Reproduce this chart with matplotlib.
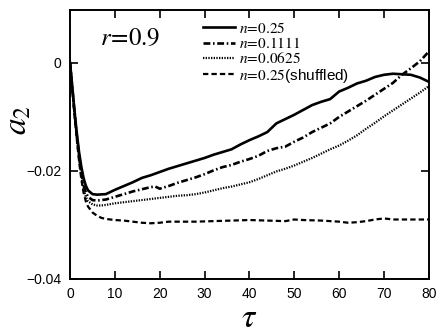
import matplotlib
matplotlib.use('Agg')
import numpy as np
from matplotlib import pyplot as plt

plt.rcParams['font.family'] = ['Liberation Sans', 'DejaVu Sans']
plt.rcParams['mathtext.fontset'] = 'stix'

# n=0.25
tau_a = [0, 0.5, 1, 1.5, 2, 2.5, 3, 3.5, 4, 5, 6, 8, 10, 12, 14, 16, 18, 20, 22, 24, 26, 28, 30,
         32, 34, 36, 38, 40, 42, 44, 46, 48, 50, 52, 54, 56, 58, 60, 62, 64, 66, 68, 70, 72, 74,
         76, 78, 80]
a2_a = [0, -0.0045, -0.0090, -0.0130, -0.0165, -0.0192, -0.0213, -0.0227, -0.0236, -0.0243,
        -0.0244, -0.0243, -0.0235, -0.0228, -0.0221, -0.0213, -0.0208, -0.0202, -0.0196, -0.0191,
        -0.0186, -0.0181, -0.0176, -0.0170, -0.0165, -0.0160, -0.0151, -0.0143, -0.0136, -0.0128,
        -0.0112, -0.0104, -0.0096, -0.0087, -0.0078, -0.0072, -0.0067, -0.0053, -0.0046, -0.0038,
        -0.0033, -0.0026, -0.0022, -0.0020, -0.0021, -0.0022, -0.0027, -0.0035]

# n=0.1111
tau_b = [0, 0.5, 1, 1.5, 2, 2.5, 3, 3.5, 4, 5, 6, 8, 10, 12, 14, 16, 18, 19, 20, 22, 24, 26, 28,
         30, 32, 34, 36, 38, 40, 42, 44, 46, 48, 50, 52, 54, 56, 58, 60, 62, 64, 66, 68, 70, 72,
         74, 76, 78, 80]
a2_b = [0, -0.0047, -0.0093, -0.0135, -0.0172, -0.0202, -0.0225, -0.0240, -0.0248, -0.0254,
        -0.0255, -0.0253, -0.0248, -0.0243, -0.0238, -0.0234, -0.0230, -0.0229, -0.0233, -0.0228,
        -0.0222, -0.0217, -0.0212, -0.0206, -0.0199, -0.0193, -0.0189, -0.0183, -0.0178, -0.0172,
        -0.0163, -0.0158, -0.0155, -0.0146, -0.0138, -0.0128, -0.0120, -0.0112, -0.0100, -0.0090,
        -0.0080, -0.0070, -0.0059, -0.0048, -0.0037, -0.0022, -0.0010, 0.0003, 0.0021]

# n=0.0625
tau_c = [0, 0.5, 1, 1.5, 2, 2.5, 3, 3.5, 4, 5, 6, 7, 8, 10, 12, 14, 16, 18, 20, 22, 24, 26, 28,
         30, 32, 34, 36, 38, 40, 42, 44, 46, 48, 50, 52, 54, 56, 58, 60, 62, 64, 66, 68, 70, 72,
         74, 76, 78, 80]
a2_c = [0, -0.0048, -0.0095, -0.0138, -0.0176, -0.0208, -0.0232, -0.0248, -0.0256, -0.0262,
        -0.0264, -0.0264, -0.0263, -0.0260, -0.0258, -0.0256, -0.0254, -0.0252, -0.0250, -0.0248,
        -0.0246, -0.0245, -0.0243, -0.0240, -0.0236, -0.0232, -0.0229, -0.0225, -0.0221, -0.0215,
        -0.0208, -0.0201, -0.0196, -0.0190, -0.0183, -0.0176, -0.0168, -0.0160, -0.0153, -0.0144,
        -0.0134, -0.0122, -0.0111, -0.0099, -0.0088, -0.0077, -0.0066, -0.0055, -0.0043]

# n=0.25 (shuffled)
tau_d = [0, 0.5, 1, 1.5, 2, 2.5, 3, 3.5, 4, 5, 6, 7, 8, 10, 12, 14, 16, 18, 20, 22, 25, 28, 32,
         36, 40, 44, 48, 50, 52, 56, 60, 62, 64, 66, 68, 70, 72, 76, 80]
a2_d = [0, -0.0049, -0.0097, -0.0142, -0.0182, -0.0215, -0.0240, -0.0256, -0.0266, -0.0277,
        -0.0283, -0.0287, -0.0289, -0.0291, -0.0292, -0.0294, -0.0296, -0.0297, -0.0296, -0.0294,
        -0.0294, -0.0294, -0.0293, -0.0292, -0.0291, -0.0292, -0.0293, -0.0290, -0.0291, -0.0292,
        -0.0294, -0.0296, -0.0295, -0.0293, -0.0290, -0.0288, -0.0290, -0.0290, -0.0290]

labels = [r'$n\!=\!0.25$', r'$n\!=\!0.1111$', r'$n\!=\!0.0625$',
          r'$n\!=\!0.25$(shuffled)']

fig = plt.figure(figsize=(4.38, 3.34), dpi=100)
ax = fig.add_axes([0.160, 0.165, 0.819, 0.805])

ax.plot(tau_a, a2_a, color='black', lw=1.9, ls='-', label=labels[0])
ax.plot(tau_b, a2_b, color='black', lw=1.9, ls=(0, (2.6, 1.0, 0.6, 1.0)), label=labels[1])
ax.plot(tau_c, a2_c, color='black', lw=1.6, ls=(0, (0.6, 0.6)), label=labels[2])
ax.plot(tau_d, a2_d, color='black', lw=1.6, ls=(0, (2.4, 1.4)), label=labels[3])

ax.set_xlim(0, 80)
ax.set_ylim(-0.04, 0.0098)
ax.set_xticks(np.arange(0, 81, 10))
ax.set_yticks([-0.04, -0.02, 0])
ax.set_yticklabels(['\u22120.04', '\u22120.02', '0'])
ax.tick_params(direction='in', top=True, right=True, length=6, width=1.2, labelsize=10,
               pad=6)
for s in ax.spines.values():
    s.set_linewidth(1.4)

ax.set_xlabel(r'$\tau$', fontsize=24, labelpad=1)
ax.set_ylabel(r'$a_2$', fontsize=24)
ax.yaxis.set_label_coords(-0.103, 0.59)

ax.text(0.084, 0.87, r'$r\!=\!0.9$', transform=ax.transAxes, fontsize=18)

leg = ax.legend(loc='upper left', bbox_to_anchor=(0.34, 1.0), frameon=False, fontsize=11,
                handlelength=2.1, handletextpad=0.3, labelspacing=0.02, borderaxespad=0.3)

fig.savefig('out.png', dpi=100)
